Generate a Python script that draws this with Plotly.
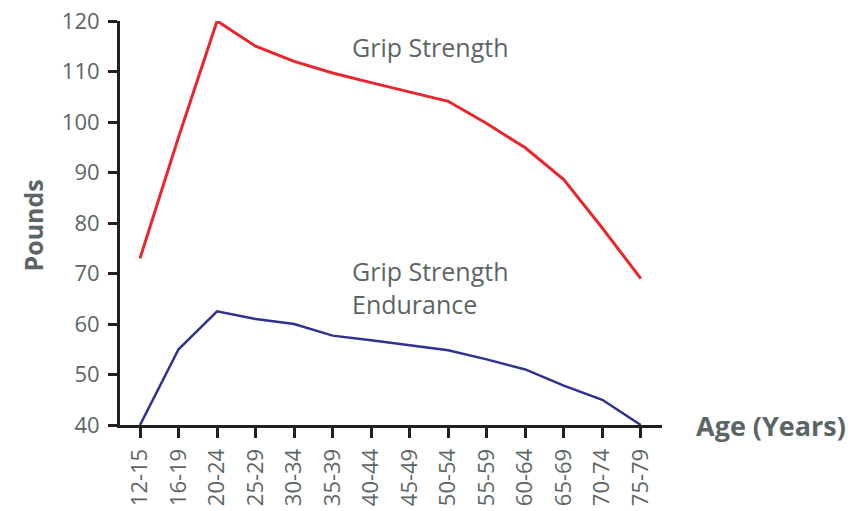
import plotly.graph_objects as go

ages = ["12-15", "16-19", "20-24", "25-29", "30-34", "35-39", "40-44",
        "45-49", "50-54", "55-59", "60-64", "65-69", "70-74", "75-79"]
grip_strength = [73, 97, 120, 115, 112, 109.7, 107.8, 106, 104.1, 99.7, 94.9, 88.6, 79, 69]
grip_endurance = [40, 55, 62.5, 61, 60, 57.7, 56.8, 55.8, 54.8, 53, 51, 47.8, 45, 40]
y_ticks = [40, 50, 60, 70, 80, 90, 100, 110, 120]

FONT = "Open Sans, Noto Sans, sans-serif"
TXT = "#5b6566"
AX = "#231f20"

fig = go.Figure()
fig.add_trace(go.Scatter(x=ages, y=grip_strength, mode="lines",
                         line=dict(color="#e8262b", width=3), showlegend=False))
fig.add_trace(go.Scatter(x=ages, y=grip_endurance, mode="lines",
                         line=dict(color="#2e3192", width=2.5), showlegend=False))

fig.update_layout(
    width=868, height=511,
    margin=dict(l=120, r=206, t=21, b=86, autoexpand=False),
    paper_bgcolor="white", plot_bgcolor="white",
    font=dict(family=FONT, color=TXT, size=22),
    xaxis=dict(type="category", range=[-0.52, 13.55], showline=True, linecolor=AX,
               linewidth=3, ticks="outside", ticklen=10, tickwidth=3, tickcolor=AX,
               tickangle=-90, showgrid=False, zeroline=False, ticklabelstandoff=2,
               automargin=False, ticklabeloverflow="allow",
               tickfont=dict(size=22, color=TXT, family=FONT)),
    yaxis=dict(range=[40, 120], tickvals=y_ticks, showline=True, linecolor=AX,
               linewidth=3, ticks="outside", ticklen=9, tickwidth=3, tickcolor=AX,
               showgrid=False, zeroline=False, ticklabelstandoff=4,
               automargin=False, ticklabeloverflow="allow",
               tickfont=dict(size=22, color=TXT, family=FONT)),
    annotations=[
        dict(text="Grip Strength", xref="x", yref="y", x=5.45, y=114.8,
             xanchor="left", yanchor="middle", showarrow=False,
             font=dict(size=25, color=TXT, family=FONT)),
        dict(text="Grip Strength<br>Endurance", xref="x", yref="y", x=5.45, y=67.2,
             xanchor="left", yanchor="middle", showarrow=False, align="left",
             font=dict(size=25, color=TXT, family=FONT)),
        dict(text="<b>Age (Years)</b>", xref="paper", yref="y", x=1.059, y=40,
             xanchor="left", yanchor="middle", showarrow=False,
             font=dict(size=27, color=TXT, family=FONT)),
        dict(text="<b>Pounds</b>", xref="paper", yref="y", x=-0.1605, y=79.5,
             xanchor="center", yanchor="middle", showarrow=False, textangle=-90,
             font=dict(size=25, color=TXT, family=FONT)),
    ],
)

fig.write_html("out.html", config={"displayModeBar": False},
               post_script="document.body.style.margin='0px';document.body.style.overflow='hidden';")
